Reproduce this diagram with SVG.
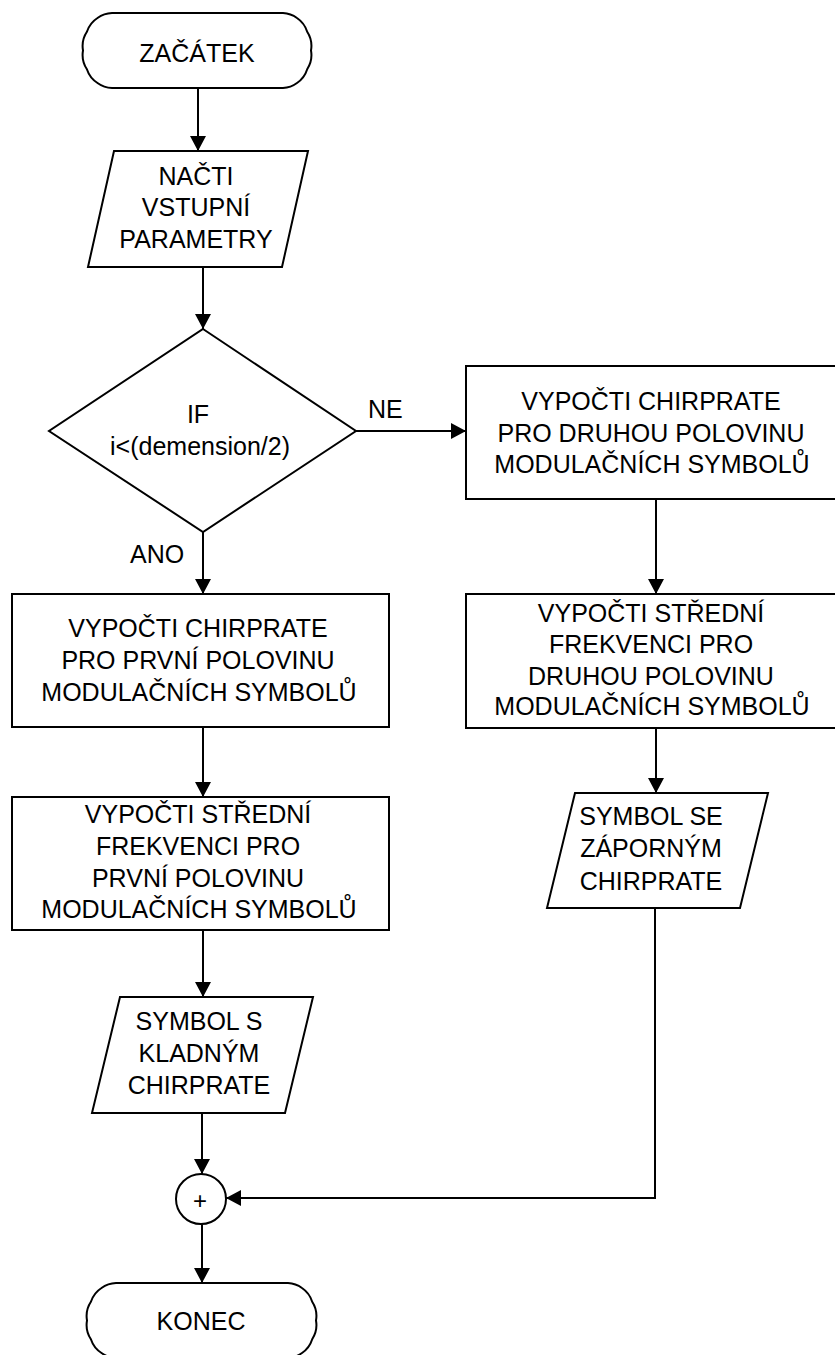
<svg xmlns="http://www.w3.org/2000/svg" width="835" height="1355" viewBox="0 0 835 1355">
  <style>
    .shape { fill: #ffffff; stroke: #000000; stroke-width: 2; }
    .lbl { font-family: "Liberation Sans", Arial, sans-serif; font-size: 25px; fill: #000000; text-anchor: middle; }
    .tag { font-family: "Liberation Sans", Arial, sans-serif; font-size: 25px; fill: #000000; }
    .edge { fill: none; stroke: #000000; stroke-width: 2; }
  </style>
  <defs>
    <marker id="arrow" markerUnits="userSpaceOnUse" markerWidth="15" markerHeight="16" viewBox="0 0 15 16" refX="15" refY="8" orient="auto">
      <path d="M0,0 L15,8 L0,16 Z" fill="#000000"/>
    </marker>
  </defs>
  <rect width="835" height="1355" fill="#ffffff"/>

  <!-- connectors -->
  <g id="connectors">
    <path class="edge" d="M198,88 V151" marker-end="url(#arrow)"/>
    <path class="edge" d="M203,267 V329" marker-end="url(#arrow)"/>
    <path class="edge" d="M356,431 H466" marker-end="url(#arrow)"/>
    <path class="edge" d="M203,532 V594" marker-end="url(#arrow)"/>
    <path class="edge" d="M203,727 V797" marker-end="url(#arrow)"/>
    <path class="edge" d="M203,930 V997" marker-end="url(#arrow)"/>
    <path class="edge" d="M202,1113 V1174" marker-end="url(#arrow)"/>
    <path class="edge" d="M656,499 V594" marker-end="url(#arrow)"/>
    <path class="edge" d="M656,728 V793" marker-end="url(#arrow)"/>
    <path class="edge" d="M655,908 V1198 H226" marker-end="url(#arrow)"/>
    <path class="edge" d="M202,1224 V1283" marker-end="url(#arrow)"/>
    <text class="tag" x="368" y="418">NE</text>
    <text class="tag" x="130" y="563">ANO</text>
  </g>

  <!-- start terminal: rounded ends built from gently scalloped arcs -->
  <g id="start">
    <path class="shape" d="M112,13 H283 A26,26 0 0 1 297,18 A26,26 0 0 1 307.2,31.75 A26,26 0 0 1 311,50.5 A26,26 0 0 1 307.2,69.25 A26,26 0 0 1 297,83 A26,26 0 0 1 283,88 H112 A26,26 0 0 1 97.5,83 A26,26 0 0 1 86.9,69.25 A26,26 0 0 1 83,50.5 A26,26 0 0 1 86.9,31.75 A26,26 0 0 1 97.5,18 A26,26 0 0 1 112,13 Z"/>
    <text class="lbl" x="197" y="62">ZAČÁTEK</text>
  </g>

  <!-- input parameters -->
  <g id="input">
    <polygon class="shape" points="114,151 308,151 282,267 88,267"/>
    <text class="lbl" x="196" y="185">NAČTI</text>
    <text class="lbl" x="196" y="216">VSTUPNÍ</text>
    <text class="lbl" x="196" y="248">PARAMETRY</text>
  </g>

  <!-- decision -->
  <g id="decision">
    <polygon class="shape" points="203,329 356,431 203,532 49,431"/>
    <text class="lbl" x="198" y="423">IF</text>
    <text class="lbl" x="200" y="455">i&lt;(demension/2)</text>
  </g>

  <!-- left branch -->
  <g id="chirp-first">
    <rect class="shape" x="12" y="594" width="377" height="133"/>
    <text class="lbl" x="198" y="637">VYPOČTI CHIRPRATE</text>
    <text class="lbl" x="198" y="669">PRO PRVNÍ POLOVINU</text>
    <text class="lbl" x="199" y="701">MODULAČNÍCH SYMBOLŮ</text>
  </g>

  <g id="freq-first">
    <rect class="shape" x="12" y="797" width="377" height="133"/>
    <text class="lbl" x="198" y="823">VYPOČTI STŘEDNÍ</text>
    <text class="lbl" x="198" y="855">FREKVENCI PRO</text>
    <text class="lbl" x="198" y="887">PRVNÍ POLOVINU</text>
    <text class="lbl" x="199" y="918">MODULAČNÍCH SYMBOLŮ</text>
  </g>

  <g id="symbol-positive">
    <polygon class="shape" points="120,997 313,997 285,1113 92,1113"/>
    <text class="lbl" x="199" y="1030">SYMBOL S</text>
    <text class="lbl" x="199" y="1062">KLADNÝM</text>
    <text class="lbl" x="199" y="1094">CHIRPRATE</text>
  </g>

  <!-- right branch -->
  <g id="chirp-second">
    <rect class="shape" x="466" y="366" width="377" height="133"/>
    <text class="lbl" x="651" y="410">VYPOČTI CHIRPRATE</text>
    <text class="lbl" x="651" y="442">PRO DRUHOU POLOVINU</text>
    <text class="lbl" x="652" y="473">MODULAČNÍCH SYMBOLŮ</text>
  </g>

  <g id="freq-second">
    <rect class="shape" x="466" y="594" width="377" height="134"/>
    <text class="lbl" x="651" y="622">VYPOČTI STŘEDNÍ</text>
    <text class="lbl" x="651" y="653">FREKVENCI PRO</text>
    <text class="lbl" x="651" y="685">DRUHOU POLOVINU</text>
    <text class="lbl" x="652" y="715">MODULAČNÍCH SYMBOLŮ</text>
  </g>

  <g id="symbol-negative">
    <polygon class="shape" points="575,793 768,793 740,908 547,908"/>
    <text class="lbl" x="651" y="825">SYMBOL SE</text>
    <text class="lbl" x="651" y="857">ZÁPORNÝM</text>
    <text class="lbl" x="651" y="890">CHIRPRATE</text>
  </g>

  <!-- merge point -->
  <g id="merge">
    <circle class="shape" cx="201" cy="1199" r="25"/>
    <text class="lbl" x="200" y="1209" style="font-size:24px">+</text>
  </g>

  <!-- end terminal -->
  <g id="end">
    <path class="shape" d="M116,1283 H288 A26,26 0 0 1 302,1288 A26,26 0 0 1 312.2,1301.75 A26,26 0 0 1 316,1320.5 A26,26 0 0 1 312.2,1339.25 A26,26 0 0 1 302,1353 A26,26 0 0 1 288,1358 H116 A26,26 0 0 1 101.5,1353 A26,26 0 0 1 90.9,1339.25 A26,26 0 0 1 87,1320.5 A26,26 0 0 1 90.9,1301.75 A26,26 0 0 1 101.5,1288 A26,26 0 0 1 116,1283 Z"/>
    <text class="lbl" x="201" y="1330">KONEC</text>
  </g>
</svg>
